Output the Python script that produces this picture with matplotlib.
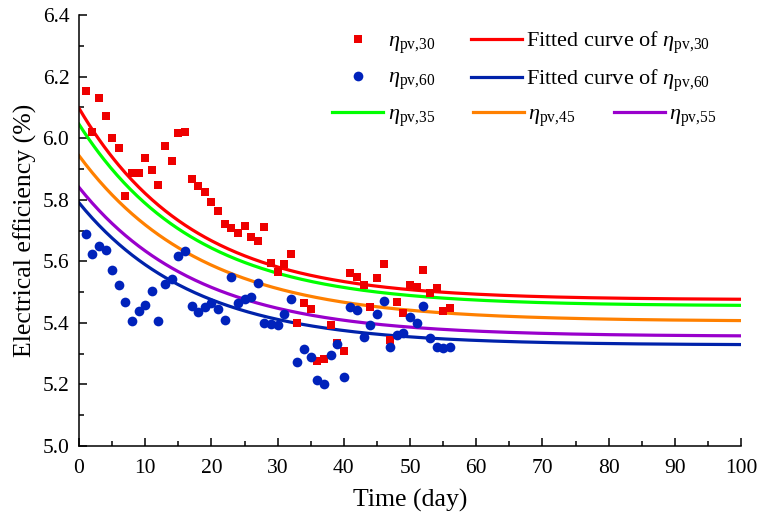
import numpy as np
import matplotlib.pyplot as plt
from matplotlib.ticker import MultipleLocator

plt.rcParams['font.family'] = 'serif'
plt.rcParams['font.serif'] = ['Liberation Serif', 'DejaVu Serif']
plt.rcParams['mathtext.fontset'] = 'custom'
plt.rcParams['mathtext.rm'] = 'Liberation Serif'
plt.rcParams['mathtext.it'] = 'Liberation Serif:italic'

# measured efficiency, one point per day
days = np.arange(1, 57)
eta_30 = [6.153, 6.020, 6.130, 6.072, 6.000, 5.968, 5.812, 5.887, 5.887, 5.935,
          5.896, 5.848, 5.974, 5.926, 6.017, 6.020, 5.867, 5.844, 5.825, 5.792,
          5.763, 5.721, 5.708, 5.692, 5.714, 5.679, 5.666, 5.711, 5.594, 5.566,
          5.591, 5.624, 5.401, 5.465, 5.445, 5.277, 5.282, 5.393, 5.335, 5.310,
          5.562, 5.549, 5.523, 5.452, 5.545, 5.592, 5.343, 5.469, 5.431, 5.524,
          5.516, 5.572, 5.498, 5.512, 5.439, 5.447]
eta_60 = [5.689, 5.625, 5.650, 5.637, 5.572, 5.524, 5.469, 5.407, 5.437, 5.459,
          5.502, 5.405, 5.525, 5.542, 5.617, 5.633, 5.455, 5.436, 5.450, 5.465,
          5.444, 5.409, 5.548, 5.463, 5.476, 5.485, 5.530, 5.401, 5.395, 5.392,
          5.428, 5.476, 5.273, 5.314, 5.290, 5.214, 5.201, 5.297, 5.331, 5.223,
          5.452, 5.442, 5.355, 5.393, 5.429, 5.470, 5.323, 5.361, 5.368, 5.420,
          5.401, 5.456, 5.352, 5.321, 5.319, 5.321]

# exponential decay fits: eta = y_inf + a * exp(-t / tau)
fit_names = ['30', '35', '45', '55', '60']
fit_yinf = [5.475, 5.455, 5.405, 5.356, 5.328]
fit_a = [0.622, 0.590, 0.538, 0.484, 0.462]
fit_tau = [17.0, 17.5, 18.5, 18.0, 17.5]
fit_colors = ['#ff0000', '#00ff00', '#ff8000', '#9900cc', '#0022aa']


def eta_label(name):
    return r'$\eta_{\rm pv{,}%s}$' % name


fig = plt.figure(figsize=(7.57, 5.2), dpi=100)
ax = fig.add_axes([0.1044, 0.1423, 0.8745, 0.8288])

t = np.linspace(0, 100, 400)
lines = {}
for name, yi, a, tau, c in zip(fit_names, fit_yinf, fit_a, fit_tau, fit_colors):
    ln, = ax.plot(t, yi + a * np.exp(-t / tau), color=c, lw=2.3, zorder=2)
    lines[name] = ln

sq, = ax.plot(days, eta_30, 's', color='#ee0000', ms=6, mew=0, ls='none', zorder=3)
dot, = ax.plot(days, eta_60, 'o', color='#0022bb', ms=7, mew=0, ls='none', zorder=3)

ax.set_xlim(0, 100)
ax.set_ylim(5.0, 6.4)
ax.xaxis.set_major_locator(MultipleLocator(10))
ax.xaxis.set_minor_locator(MultipleLocator(5))
ax.yaxis.set_major_locator(MultipleLocator(0.2))
ax.yaxis.set_minor_locator(MultipleLocator(0.1))
ax.yaxis.set_major_formatter(plt.FormatStrFormatter('%.1f'))
ax.tick_params(which='both', direction='in', labelsize=15.5, width=1.1)
ax.tick_params(which='major', length=6)
ax.tick_params(axis='x', which='major', pad=9)
ax.tick_params(axis='y', which='major', pad=7)
ax.tick_params(which='minor', length=3.5)
ax.spines['top'].set_visible(False)
ax.spines['right'].set_visible(False)
for s in ('left', 'bottom'):
    ax.spines[s].set_linewidth(1.1)

ax.set_xlabel('Time (day)', fontsize=18.5, labelpad=8)
ax.set_ylabel('Electrical efficiency (%)', fontsize=18.5, labelpad=4)

leg1 = ax.legend([sq, dot, lines['30'], lines['60']],
                 [eta_label('30'), eta_label('60'),
                  'Fitted curve of ' + eta_label('30'), 'Fitted curve of ' + eta_label('60')],
                 ncol=2, frameon=False, fontsize=16, handlelength=2.3,
                 handletextpad=0.2, columnspacing=1.6, labelspacing=0.55,
                 borderpad=0, borderaxespad=0, loc='upper left',
                 bbox_to_anchor=(332 / 757, 1 - 29 / 520), bbox_transform=fig.transFigure)
ax.add_artist(leg1)

ax.legend([lines['35'], lines['45'], lines['55']],
          [eta_label('35'), eta_label('45'), eta_label('55')],
          ncol=3, frameon=False, fontsize=16, handlelength=2.3,
          handletextpad=0.2, columnspacing=1.7,
          borderpad=0, borderaxespad=0, loc='upper left',
          bbox_to_anchor=(332 / 757, 1 - 104 / 520), bbox_transform=fig.transFigure)

fig.savefig('out.png', dpi=100)
